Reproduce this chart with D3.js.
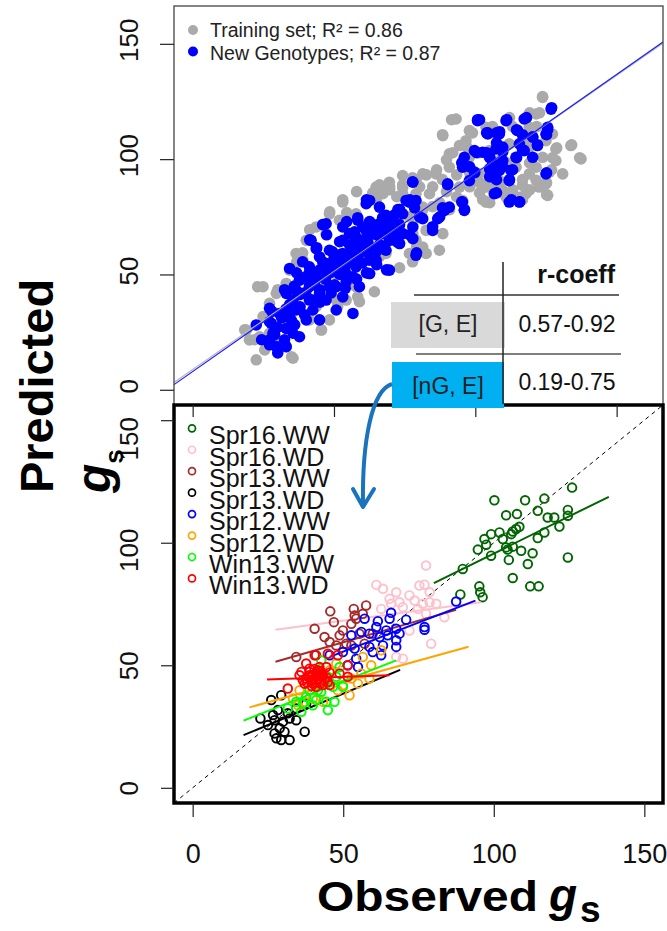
<!DOCTYPE html>
<html>
<head>
<meta charset="utf-8">
<script src="https://cdn.jsdelivr.net/npm/d3@7"></script>
<style>
  body { margin: 0; background: #fff; }
  text { font-family: "Liberation Sans", Arial, sans-serif; }
</style>
</head>
<body>
<div id="chart"></div>
<script>
// ---- data (observed, predicted) ----
var trainingSet = [[123.8,126.8],[93.2,117.4],[88.5,110.2],[133.8,105.9],[137.4,100.1],[128.5,104.4],[125.6,84.3],[125.0,89.3],[87.3,60.5],[45.5,25.9],[53.1,81.4],[22.5,13.0],[35.5,13.7],[64.3,42.5],[59.0,38.2],[24.9,44.7],[19.0,25.9],[20.1,21.6],[48.4,76.3],[69.6,90.0],[74.3,92.9],[81.4,93.6],[86.1,93.6],[90.8,102.3],[96.7,108.0],[103.8,113.8],[110.9,116.7],[121.5,119.6],[119.1,113.8],[127.3,110.9],[123.8,100.8],[119.1,93.6],[116.7,88.6],[110.9,83.5],[103.8,81.4],[121.5,96.5],[114.4,96.5],[108.5,90.7],[95.5,82.1],[83.8,85.0],[79.0,85.0],[74.3,85.0],[81.4,61.9],[76.7,59.1],[73.2,63.4],[68.4,59.1],[62.6,50.4],[57.8,44.7],[50.8,38.9],[43.7,36.0],[41.3,49.0],[39.0,56.2],[40.2,64.8],[47.2,67.7],[51.9,73.5],[57.8,76.3],[64.9,82.1],[67.3,85.0],[27.2,37.5],[29.6,41.8],[33.1,46.1],[34.3,51.9],[36.6,59.1],[27.2,24.5],[29.6,20.2],[33.1,18.7],[41.3,30.3],[48.4,30.3],[54.3,38.9],[90.8,96.5],[97.9,100.8],[105.0,103.7],[112.0,106.6],[116.7,108.0],[94.4,87.9],[88.5,79.2],[81.4,79.2],[101.4,93.6],[108.5,99.4],[126.2,94.4],[130.9,93.6],[122.6,87.9],[114.4,100.8],[82.6,69.1],[77.9,67.7],[88.5,67.7],[61.4,67.7],[67.3,69.1],[46.1,44.7],[50.8,50.4],[55.5,56.2],[60.2,59.1],[31.9,30.3],[24.9,31.7],[23.7,23.0],[97.9,112.4],[107.3,110.9],[94.4,105.9],[125.0,108.0],[128.5,99.4],[115.6,83.5],[109.7,86.4],[103.8,87.9],[72.0,76.3],[43.7,70.6],[64.9,87.9],[79.0,90.8],[82.6,59.1],[79.0,64.8],[119.1,105.2],[121.5,90.8],[117.9,85.0],
    [23.0,44.7],[30.1,43.4],[18.4,26.0],[21.9,21.7],[25.5,17.3],[35.0,14.3],[45.6,26.0],[51.3,36.0],[58.4,40.3],[57.3,47.7],
    [53.1,82.4],[48.5,77.2],[54.5,76.8],[66.1,88.9],[69.7,86.7],[74.3,87.6],[80.3,74.6],[79.2,62.0],[77.8,55.5],[73.2,52.9],[66.1,57.7],[41.4,69.4],[38.9,59.4],[36.8,55.5],[58.0,85.9],[63.7,85.4],
    [88.4,110.6],[91.6,117.1],[99.0,111.4],[96.9,105.4],[92.0,102.8],[89.8,99.7],[86.3,95.4],[82.7,93.2],[77.8,91.9],[74.3,88.9],[69.7,88.0],[72.2,83.7],[80.3,88.0],[84.9,88.0],[88.4,91.1],[93.4,93.2],[98.0,94.1],[101.5,89.8],[98.0,88.0],[102.6,82.4],[105.1,81.1],[93.4,83.7],[89.8,85.9],[87.4,81.1],[84.9,79.4],[81.4,78.1],[76.8,75.0],[90.9,78.1],[106.1,88.0],[107.5,98.4],[101.5,102.8],
    [123.8,127.1],[119.2,120.1],[122.7,120.1],[112.1,118.0],[106.1,114.1],[113.2,114.1],[121.7,114.1],[128.8,104.9],[134.1,106.2],[136.9,100.6],[127.0,95.4],[125.2,89.8],[127.3,100.6],[119.2,98.4],[116.7,91.1],[113.2,86.7],[119.2,86.7],[108.6,88.0],[125.2,84.6],[104.0,81.5],[116.7,82.4],[111.1,98.4],[105.1,91.1],[101.5,85.4]];

var newGenotypes = [[126.8,121.7],[100.8,116.7],[110.9,116.7],[117.3,117.4],[104.4,110.9],[108.5,110.9],[115.0,112.4],[120.3,109.5],[125.0,110.9],[125.6,113.8],[122.0,105.9],[117.3,103.7],[114.4,100.8],[107.3,104.4],[102.6,103.0],[99.7,103.7],[96.1,100.8],[95.5,96.5],[99.7,94.4],[105.0,95.8],[108.5,95.1],[109.7,105.2],[112.6,95.1],[112.0,90.7],[125.0,93.6],[106.1,92.9],[106.7,85.0],[112.0,81.4],[115.6,81.4],[95.5,81.4],[96.1,77.8],[90.2,89.3],[77.9,90.0],[89.1,77.8],[86.7,74.2],[84.9,69.1],[79.0,58.3],[76.7,81.4],[75.5,82.1],[79.0,82.1],[72.6,78.1],[68.4,75.6],[62.6,82.1],[61.4,80.7],[66.1,79.2],[58.4,73.5],[62.6,72.7],[67.3,72.0],[72.0,69.1],[77.9,70.6],[81.4,74.2],[74.3,67.7],[77.9,65.5],[73.2,63.4],[68.4,60.5],[69.6,51.9],[62.6,50.4],[59.0,44.7],[54.3,46.8],[47.2,72.0],[41.9,64.8],[43.7,61.2],[48.4,60.5],[53.1,64.8],[57.8,59.1],[62.6,61.9],[53.1,54.7],[47.2,54.7],[41.3,53.3],[34.3,52.6],[37.8,47.5],[43.7,49.0],[48.4,44.7],[39.0,41.8],[33.1,41.8],[27.2,35.3],[22.5,28.1],[27.8,28.8],[31.9,31.7],[36.6,34.6],[42.5,34.6],[47.2,38.9],[53.1,40.3],[56.7,33.1],[50.8,34.6],[44.9,30.3],[40.2,30.3],[33.1,26.6],[28.4,24.5],[29.6,18.7],[33.1,18.7],[37.8,23.0],[27.2,21.6],[57.8,53.3],[64.9,56.2],[50.8,51.9],[69.6,64.8],[63.7,67.7],[55.5,67.7],[41.3,38.9],[35.5,38.9],[30.7,33.1],[61.4,69.1],[67.3,67.7],[74.3,76.3],[120.3,100.8],[105.0,100.8],[115.6,106.6],[90.8,79.2],[97.9,90.7],[109.7,99.4],[36.6,43.2],[44.9,41.8],[50.8,44.7],[56.7,49.0],[62.6,56.2],[67.3,61.9],[57.8,64.8],[48.4,53.3],[41.3,44.7],[34.3,31.7],[35.5,24.5],[44.9,57.6],[53.1,59.1],[60.2,70.6],[53.1,70.6],
    [24.4,21.7],[29.0,23.9],[32.5,21.7],[27.2,29.5],[31.5,31.2],[36.1,28.2],[39.6,32.5],[34.3,36.9],[37.8,41.2],[42.1,39.0],[44.9,43.4],[41.4,45.5],[37.8,47.7],[46.7,49.9],[50.2,45.5],[48.5,54.2],[52.0,58.5],[53.8,52.0],[55.5,62.9],[58.4,57.2],[60.8,65.0],[57.3,68.5],[63.3,70.3],[66.1,62.9],[67.9,69.4],[71.5,75.9],[32.5,43.4],[27.2,19.5],[30.1,16.0],
    [61.5,82.4],[73.2,78.1],[76.8,82.4],[78.5,78.9],[46.0,71.6],[54.5,72.9],[58.4,74.6],[62.6,72.9],[67.2,74.6],[69.7,70.3],[73.2,71.6],[76.8,67.2],[79.2,59.4],[72.2,64.2],[41.4,65.0],[47.4,67.2],[52.0,64.2],[58.0,65.9],[65.1,67.2],[43.9,61.6],[49.5,59.8],[55.5,58.5],[61.5,59.8],[65.1,54.2],[68.6,52.0],[38.9,55.5],[46.0,55.5],[52.0,54.2],[58.0,54.2],[36.8,50.7],[41.4,51.2],[48.5,50.7],[54.5,49.9],[61.5,50.7],
    [77.8,90.2],[90.2,88.9],[95.2,81.5],[96.2,78.1],[76.8,81.5],[73.2,78.1],[80.3,75.0],[88.4,78.9],[87.4,75.0],[84.9,70.7],[95.2,98.4],[98.0,96.7],[100.5,102.8],[99.8,94.1],[104.4,111.4],[107.5,111.4],[100.8,117.1],[105.1,101.0],[105.1,92.4],[107.5,91.1],
    [127.0,122.3],[118.1,118.0],[111.1,117.1],[101.5,117.1],[104.0,111.4],[108.6,111.9],[114.6,112.7],[116.7,110.6],[120.3,109.7],[125.6,112.7],[125.2,110.6],[122.0,106.2],[116.7,104.1],[114.6,100.6],[107.5,107.1],[104.0,102.8],[109.7,103.2],[106.1,98.4],[109.7,96.7],[113.2,95.4],[105.8,92.4],[112.1,91.1],[125.2,94.1],[107.5,85.4],[112.8,82.4],[115.7,81.5],
    [28.0,34.0],[30.0,27.0],[33.0,35.0],[35.0,30.0],[36.0,45.0],[38.0,36.0],[40.0,42.0],[40.0,49.0],[43.0,46.0],[45.0,38.0],[45.0,52.0],[47.0,48.0],[49.0,42.0],[50.0,57.0],[52.0,50.0],[54.0,44.0],[55.0,55.0],[56.0,60.0],[58.0,48.0],[59.0,62.0],[60.0,55.0],[62.0,64.0],[63.0,59.0],[65.0,60.0],[66.0,72.0],[70.0,74.0],[71.0,66.0],[64.0,70.0]];

// [intercept, slope] of the two fits in the top panel
var trainingFit = [8.8, 0.85];
var newGenotypesFit = [7.9, 0.859];

var envNames = ["Spr16.WW", "Spr16.WD", "Spr13.WW", "Spr13.WD", "Spr12.WW", "Spr12.WD", "Win13.WW", "Win13.WD"];

var spr16WW = [[100.2,117.3],[110.4,117.3],[116.8,118.0],[126.0,122.5],[124.6,113.4],[114.6,113.0],[104.1,111.2],[107.7,111.7],[117.9,110.3],[120.1,110.3],[124.6,111.0],[108.5,106.5],[107.4,105.6],[106.3,104.6],[121.8,106.6],[99.1,103.5],[101.9,104.2],[96.9,101.5],[103.0,101.5],[105.8,103.5],[114.6,101.9],[116.8,104.2],[97.5,99.2],[104.1,98.1],[106.3,98.4],[109.1,96.7],[104.6,97.2],[94.7,97.2],[99.1,94.7],[112.9,95.7],[105.0,93.0],[111.3,91.3],[124.6,94.0],[89.7,89.3],[106.3,85.6],[112.1,82.2],[114.9,82.2],[95.2,82.2],[95.5,79.8],[96.3,77.8],[88.9,78.9]];
var spr16WD = [[77.5,90.7],[61.0,82.8],[63.2,81.2],[67.6,79.8],[75.3,82.5],[77.0,82.9],[78.7,79.8],[72.0,78.5],[68.7,75.7],[65.9,75.1],[62.6,73.0],[69.8,73.7],[76.4,75.1],[78.7,75.7],[80.9,75.1],[74.8,73.0],[77.5,71.0],[83.6,69.6],[72.0,64.2],[79.2,58.8],[67.6,53.4],[69.8,52.7],[65.4,77.1],[73.7,76.4]];
var spr13WW = [[45.7,72.0],[53.5,73.0],[57.6,74.4],[40.5,64.9],[46.9,67.6],[49.9,64.2],[53.8,70.3],[56.5,71.0],[52.7,66.9],[48.8,62.2],[43.8,61.5],[45.5,59.5],[47.7,58.1],[51.0,58.8],[52.7,58.1],[55.4,62.9],[59.8,62.9],[34.4,53.4],[41.0,54.1],[57.1,58.8],[54.3,69.0]];
var spr13WD = [[22.5,28.3],[26.1,35.8],[29.4,37.8],[28.3,31.7],[27.2,27.6],[30.0,27.0],[32.2,28.3],[34.4,27.6],[28.9,24.3],[27.2,22.2],[30.5,22.9],[27.8,20.2],[29.4,19.5],[32.2,19.5],[37.2,22.9],[34.4,32.4],[37.7,34.4],[25.0,25.6],[31.6,30.4],[26.7,29.7]];
var spr12WW = [[65.9,71.4],[61.5,68.0],[65.4,69.0],[70.9,68.6],[57.1,69.0],[61.0,65.6],[64.3,64.2],[67.6,64.9],[56.0,63.6],[58.7,62.9],[62.1,61.5],[64.8,62.2],[68.7,62.9],[52.7,62.2],[77.0,65.6],[77.0,64.5],[67.6,60.2],[67.6,57.5],[63.2,58.1],[58.7,57.5],[53.8,56.8],[49.9,55.4],[59.8,55.4],[62.6,54.1],[45.5,54.1],[54.3,52.7],[87.5,76.0],[51.5,50.0],[54.9,49.3]];
var spr12WD = [[62.6,56.1],[56.5,53.4],[59.3,50.0],[56.0,46.6],[52.7,44.6],[54.9,42.5],[58.7,44.6],[49.9,41.9],[52.1,37.8],[48.2,39.8],[45.5,48.0],[47.7,50.7],[35.5,39.8],[39.9,36.4],[43.3,35.1],[37.2,35.1],[35.0,33.7],[33.3,36.4],[44.4,43.9],[42.1,42.5]];
var win13WW = [[42.7,52.0],[48.8,49.3],[44.9,45.3],[41.0,43.2],[38.8,39.8],[42.7,39.2],[46.6,41.2],[37.7,37.1],[41.0,35.8],[44.4,35.1],[47.1,35.1],[31.6,32.4],[36.1,31.0],[39.9,33.7],[44.9,31.7],[49.9,41.2],[47.7,45.3],[34.4,35.1],[41.6,39.8],[36.6,34.4]];
var win13WD = [[40.5,54.1],[44.9,54.7],[48.2,54.1],[37.7,50.7],[42.1,49.3],[35.5,45.9],[38.8,47.3],[41.0,46.6],[43.3,45.3],[39.4,43.9],[42.1,43.2],[44.9,43.2],[37.2,42.5],[41.0,41.2],[45.5,41.9],[48.8,46.6],[51.5,50.0],[51.5,45.3],[31.6,40.5],[44.4,49.3],[38.3,45.3],[41.6,44.6],[39.9,45.9],[42.7,47.3],[37.7,44.6],[43.8,43.9],[38.8,48.6],[41.6,48.0],[36.6,43.9],[39.9,42.5],[43.3,41.9],[36.1,47.3],[40.0,44.0],[41.5,45.5],[43.0,46.5],[39.0,46.0],[42.0,47.5],[44.5,45.0],[40.5,48.5],[38.0,43.0],[42.5,42.5],[45.5,47.0],[39.5,41.5],[41.0,43.0]];
var envPoints = [spr16WW, spr16WD, spr13WW, spr13WD, spr12WW, spr12WD, win13WW, win13WD];

// per environment fit: [x from, x to, intercept, slope]
var envFits = [[80.1,138.2,35.0,0.606],[27.5,95.8,60.0,0.164],[27.5,87.5,41.7,0.353],[16.9,68.9,12.8,0.513],[45.5,93.9,31.8,0.475],[18.9,91.6,26.4,0.340],[16.9,67.6,19.2,0.485],[24.7,65.4,43.2,0.042]];

var axisTicks = [0, 50, 100, 150];
var tableHeader = "r-coeff";
var tableRows = ["[G, E]", "[nG, E]"];
var tableValues = ["0.57-0.92", "0.19-0.75"];
var legendTop = ["Training set; R\u00b2 = 0.86", "New Genotypes; R\u00b2 = 0.87"];

var envColors = ["#006400", "#ffc0cb", "#a52a2a", "#000000", "#0000ff", "#ffa500", "#00ff00", "#ff0000"];
var topColors = ["#aaaaaa", "#0000ff"];

// ---- layout ----
var svgWidth = 667;
var svgHeight = 931;
var topBox = {left: 174, right: 663, top: 6, bottom: 405};
var botBox = {left: 174, right: 663, top: 405, bottom: 803};

var svg = d3.select("#chart")
    .append("svg")
    .attr("width", svgWidth)
    .attr("height", svgHeight);

var xTop = d3.scaleLinear().domain([-6.6, 166.4]).range([topBox.left, topBox.right]);
var yTop = d3.scaleLinear().domain([-6.6, 166.4]).range([topBox.bottom, topBox.top]);
var xBot = d3.scaleLinear().domain([-6.2, 156.2]).range([botBox.left, botBox.right]);
var yBot = d3.scaleLinear().domain([-6.2, 156.2]).range([botBox.bottom, botBox.top]);

var defs = svg.append("defs");
defs.append("clipPath").attr("id", "clipTop").append("rect")
    .attr("x", topBox.left).attr("y", topBox.top)
    .attr("width", topBox.right - topBox.left).attr("height", topBox.bottom - topBox.top);
defs.append("clipPath").attr("id", "clipBot").append("rect")
    .attr("x", botBox.left).attr("y", botBox.top)
    .attr("width", botBox.right - botBox.left).attr("height", botBox.bottom - botBox.top);

// ================= top panel =================
var topGroup = svg.append("g").attr("clip-path", "url(#clipTop)");

topGroup.selectAll("circle.train")
    .data(trainingSet)
    .enter()
    .append("circle")
    .attr("class", "train")
    .attr("cx", d => xTop(d[0]))
    .attr("cy", d => yTop(d[1]))
    .attr("r", 5.8)
    .attr("fill", topColors[0]);

topGroup.selectAll("circle.newg")
    .data(newGenotypes)
    .enter()
    .append("circle")
    .attr("class", "newg")
    .attr("cx", d => xTop(d[0]))
    .attr("cy", d => yTop(d[1]))
    .attr("r", 5.8)
    .attr("fill", topColors[1]);

[trainingFit, newGenotypesFit].forEach(function(fit, i) {
    var xs = xTop.domain();
    topGroup.append("line")
        .attr("x1", xTop(xs[0])).attr("y1", yTop(fit[0] + fit[1] * xs[0]))
        .attr("x2", xTop(xs[1])).attr("y2", yTop(fit[0] + fit[1] * xs[1]))
        .attr("stroke", i === 0 ? "#b8b8b8" : "#1a1aff")
        .attr("stroke-width", 1.2);
});

svg.append("rect")
    .attr("x", topBox.left).attr("y", topBox.top)
    .attr("width", topBox.right - topBox.left).attr("height", topBox.bottom - topBox.top)
    .attr("fill", "none")
    .attr("stroke", "#444")
    .attr("stroke-width", 1.3);

// top legend
var topLegend = svg.append("g");
legendTop.forEach(function(label, i) {
    topLegend.append("circle")
        .attr("cx", 193).attr("cy", 30 + i * 21.5)
        .attr("r", 5)
        .attr("fill", topColors[i]);
    topLegend.append("text")
        .attr("x", 210).attr("y", 37 + i * 22.5)
        .attr("font-size", "19.5px")
        .attr("fill", "#222")
        .text(label);
});

// top y axis
var yAxisTop = svg.append("g")
    .attr("transform", `translate(${topBox.left},0)`)
    .call(d3.axisLeft(yTop).tickValues(axisTicks).tickSize(14));
yAxisTop.select(".domain").remove();
yAxisTop.selectAll("line").attr("stroke", "#222").attr("stroke-width", 1.2);
yAxisTop.selectAll("text")
    .attr("x", 0).attr("dy", 0)
    .attr("text-anchor", "middle")
    .attr("font-size", "26px")
    .attr("fill", "#111")
    .attr("font-family", "Liberation Sans, Arial, sans-serif")
    .attr("transform", "translate(-36,-4) rotate(-90)");

// ================= bottom panel =================
var botGroup = svg.append("g").attr("clip-path", "url(#clipBot)");

// 1:1 line
botGroup.append("line")
    .attr("x1", xBot(-6.2)).attr("y1", yBot(-6.2))
    .attr("x2", xBot(156.2)).attr("y2", yBot(156.2))
    .attr("stroke", "#000")
    .attr("stroke-width", 1)
    .attr("stroke-dasharray", "4,4");

envPoints.forEach(function(pts, i) {
    botGroup.append("g")
        .selectAll("circle")
        .data(pts)
        .enter()
        .append("circle")
        .attr("cx", d => xBot(d[0]))
        .attr("cy", d => yBot(d[1]))
        .attr("r", 4.3)
        .attr("fill", "none")
        .attr("stroke", envColors[i])
        .attr("stroke-width", 1.9);
    var f = envFits[i];
    botGroup.append("line")
        .attr("x1", xBot(f[0])).attr("y1", yBot(f[2] + f[3] * f[0]))
        .attr("x2", xBot(f[1])).attr("y2", yBot(f[2] + f[3] * f[1]))
        .attr("stroke", envColors[i])
        .attr("stroke-width", 2);
});

// legend
var botLegend = svg.append("g");
envNames.forEach(function(name, i) {
    var cy = 428.3 + i * 21.45;
    botLegend.append("circle")
        .attr("cx", 192).attr("cy", cy)
        .attr("r", 3.5)
        .attr("fill", "none")
        .attr("stroke", envColors[i])
        .attr("stroke-width", 1.7);
    botLegend.append("text")
        .attr("x", 209).attr("y", cy + 16)
        .attr("font-size", "25px")
        .attr("fill", "#111")
        .text(name);
});

svg.append("rect")
    .attr("x", botBox.left).attr("y", botBox.top)
    .attr("width", botBox.right - botBox.left).attr("height", botBox.bottom - botBox.top)
    .attr("fill", "none")
    .attr("stroke", "#000")
    .attr("stroke-width", 3.5);

// top panel x ticks (shown over the top edge of the lower panel)
var xAxisTop = svg.append("g")
    .attr("transform", `translate(0,${topBox.bottom})`)
    .call(d3.axisBottom(xTop).tickValues(axisTicks).tickSize(12).tickFormat(""));
xAxisTop.select(".domain").remove();
xAxisTop.selectAll("line").attr("stroke", "#222").attr("stroke-width", 1.2);

// bottom y axis
var yAxisBot = svg.append("g")
    .attr("transform", `translate(${botBox.left},0)`)
    .call(d3.axisLeft(yBot).tickValues(axisTicks).tickSize(13));
yAxisBot.select(".domain").remove();
yAxisBot.selectAll("line").attr("stroke", "#222").attr("stroke-width", 1.2);
yAxisBot.selectAll("text")
    .attr("x", 0).attr("dy", 0)
    .attr("text-anchor", "middle")
    .attr("font-size", "26px")
    .attr("fill", "#111")
    .attr("font-family", "Liberation Sans, Arial, sans-serif")
    .attr("transform", d => `translate(-36,${d === 150 ? 18 : d === 100 ? 7 : 0}) rotate(-90)`);

// bottom x axis
var xAxisBot = svg.append("g")
    .attr("transform", `translate(0,${botBox.bottom})`)
    .call(d3.axisBottom(xBot).tickValues(axisTicks).tickSize(14));
xAxisBot.select(".domain").remove();
xAxisBot.selectAll("line").attr("stroke", "#222").attr("stroke-width", 1.2);
xAxisBot.selectAll("text")
    .attr("y", 60).attr("dy", 0)
    .attr("font-size", "27px")
    .attr("fill", "#111")
    .attr("font-family", "Liberation Sans, Arial, sans-serif");

// ================= r-coeff table =================
var table = svg.append("g").attr("font-family", "Open Sans, sans-serif");
table.append("rect")
    .attr("x", 391).attr("y", 302).attr("width", 114).attr("height", 46)
    .attr("fill", "#d9d9d9");
table.append("rect")
    .attr("x", 392).attr("y", 362).attr("width", 112).attr("height", 46)
    .attr("fill", "#00b0f0");
table.append("line")
    .attr("x1", 414).attr("x2", 619).attr("y1", 295).attr("y2", 295)
    .attr("stroke", "#333").attr("stroke-width", 1.5);
table.append("line")
    .attr("x1", 416).attr("x2", 621).attr("y1", 354).attr("y2", 354)
    .attr("stroke", "#555").attr("stroke-width", 1.5);
table.append("line")
    .attr("x1", 503).attr("x2", 503).attr("y1", 262).attr("y2", 404)
    .attr("stroke", "#222").attr("stroke-width", 1.5);
table.append("text")
    .attr("x", 615).attr("y", 283)
    .attr("text-anchor", "end")
    .attr("font-family", "Open Sans, sans-serif")
    .attr("font-weight", "bold")
    .attr("font-size", "25px")
    .attr("fill", "#111")
    .text(tableHeader);
tableRows.forEach(function(row, i) {
    table.append("text")
        .attr("x", 448).attr("y", 332 + i * 62)
        .attr("text-anchor", "middle")
        .attr("font-family", "Open Sans, sans-serif")
        .attr("font-size", "23px")
        .attr("fill", "#222")
        .text(row);
    table.append("text")
        .attr("x", 567).attr("y", 332 + i * 58)
        .attr("text-anchor", "middle")
        .attr("font-family", "Open Sans, sans-serif")
        .attr("font-size", "23px")
        .attr("fill", "#111")
        .text(tableValues[i]);
});

// curved arrow from the [nG, E] cell
svg.append("path")
    .attr("d", "M392,384 C372,390 362,440 363,505")
    .attr("fill", "none")
    .attr("stroke", "#1a73bd")
    .attr("stroke-width", 4);
svg.append("path")
    .attr("d", "M353,489 L363,507 L374,489")
    .attr("fill", "none")
    .attr("stroke", "#1a73bd")
    .attr("stroke-width", 4)
    .attr("stroke-linecap", "round")
    .attr("stroke-linejoin", "round");

// ================= axis titles =================
svg.append("text")
    .attr("transform", "translate(53,386) rotate(-90)")
    .attr("text-anchor", "middle")
    .attr("font-weight", "bold")
    .attr("font-size", "47px")
    .attr("fill", "#000")
    .text("Predicted");

var gsY = svg.append("text")
    .attr("transform", "translate(110,493) rotate(-90)")
    .attr("fill", "#000")
    .attr("font-weight", "bold");
gsY.append("tspan").attr("font-style", "italic").attr("font-size", "48px").text("g");
gsY.append("tspan").attr("font-size", "26px").attr("dy", 13).text("s");

var xTitle = svg.append("text")
    .attr("x", 317).attr("y", 911)
    .attr("fill", "#000")
    .attr("font-weight", "bold");
xTitle.append("tspan").attr("font-size", "42px").attr("textLength", 221).attr("lengthAdjust", "spacingAndGlyphs").text("Observed");
xTitle.append("tspan").attr("x", 549).attr("font-style", "italic").attr("font-size", "46px").text("g");
xTitle.append("tspan").attr("x", 580).attr("dy", 11).attr("font-size", "37px").text("s");
</script>
</body>
</html>
